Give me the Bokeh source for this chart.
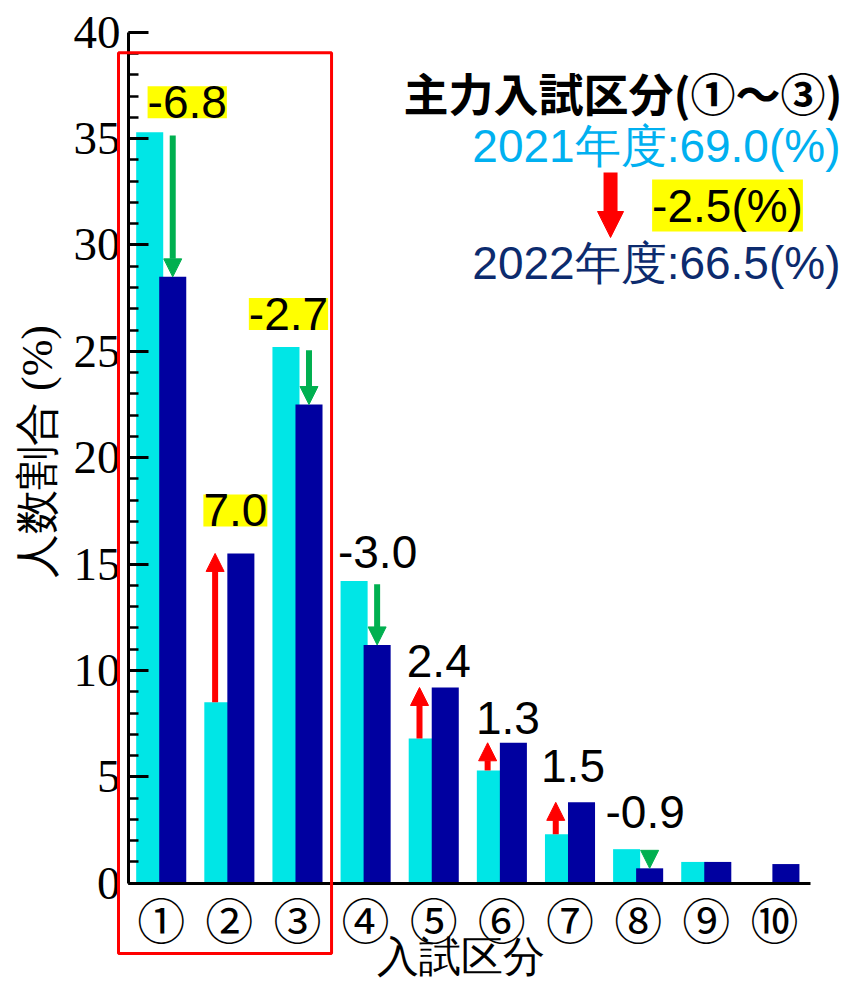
import math
from bokeh.plotting import figure
from bokeh.models import (ColumnDataSource, LabelSet, Label, Arrow, NormalHead, Range1d,
                          BoxAnnotation, SingleIntervalTicker, FixedTicker)
from bokeh.core.properties import value
from bokeh.embed import file_html
from bokeh.resources import INLINE

# ---------------- data ----------------
categories = ["①", "②", "③", "④", "⑤", "⑥", "⑦", "⑧", "⑨", "⑩"]
share_2021 = [35.3, 8.5, 25.2, 14.2, 6.8, 5.3, 2.3, 1.6, 1.0, 0.0]
share_2022 = [28.5, 15.5, 22.5, 11.2, 9.2, 6.6, 3.8, 0.7, 1.0, 0.9]
year_labels = ["2021年度", "2022年度"]
main_count = 3          # 主力入試区分 ①～③
labeled_count = 8       # categories with a change label
y_label = "人数割合 (%)"
x_label = "入試区分"
main_title = "主力入試区分(①～③)"

# ---------------- layout / style ----------------
CYAN = "#00e6e6"
NAVY = "#0000a0"
GREEN = "#00b050"
RED = "#ff0000"
BAR_W = 0.397
BAR_OFF = 0.169
X_AXIS_BOUNDS = (0.52, 10.53)
Y_AXIS_BOUNDS = (0, 40)
lbl_dx = [26, 6, -9, 12, 5, 6, 3, 7]     # px offsets of change labels
lbl_dy = [14, 27, 17, 13, 10, 9, 20, 21]

idx = list(range(1, len(categories) + 1))

p = figure(width=844, height=981, x_range=Range1d(-1.359, 11.029), y_range=Range1d(-4.62, 41.49),
           output_backend="svg", toolbar_location=None,
           min_border=0, min_border_left=0, min_border_right=0,
           min_border_top=0, min_border_bottom=0)
p.outline_line_color = None
p.xgrid.visible = False
p.ygrid.visible = False
p.background_fill_color = "white"
p.border_fill_color = "white"

# bars
src21 = ColumnDataSource(dict(x=[i - BAR_OFF for i in idx], top=share_2021))
src22 = ColumnDataSource(dict(x=[i + BAR_OFF for i in idx], top=share_2022))
p.vbar(x="x", top="top", width=BAR_W, source=src21, fill_color=CYAN, line_color=None)
p.vbar(x="x", top="top", width=BAR_W, source=src22, fill_color=NAVY, line_color=None)

# y axis
ya = p.yaxis[0]
ya.fixed_location = X_AXIS_BOUNDS[0]
ya.bounds = Y_AXIS_BOUNDS
ya.ticker = SingleIntervalTicker(interval=5, num_minor_ticks=5)
ya.major_tick_in = 20
ya.major_tick_out = 0
ya.minor_tick_in = 10
ya.minor_tick_out = 0
ya.axis_line_width = 3
ya.major_tick_line_width = 3
ya.minor_tick_line_width = 2.5
ya.major_label_text_font = "Liberation Serif"
ya.major_label_text_font_size = "47px"
ya.major_label_text_color = "black"
ya.major_label_standoff = 8

# x axis
xa = p.xaxis[0]
xa.fixed_location = Y_AXIS_BOUNDS[0]
xa.bounds = X_AXIS_BOUNDS
xa.ticker = FixedTicker(ticks=idx)
xa.major_label_overrides = {i: c for i, c in zip(idx, categories)}
xa.major_tick_line_color = None
xa.minor_tick_line_color = None
xa.axis_line_width = 3
xa.major_label_text_font = "Noto Sans CJK JP"
xa.major_label_text_font_size = "48px"
xa.major_label_text_color = "black"
xa.major_label_standoff = -6

# change arrows and labels
dn = dict(x=[], ys=[], ye=[])
up = dict(x=[], ys=[], ye=[])
hl = dict(x=[], y=[], t=[], dx=[], dy=[])
pl = dict(x=[], y=[], t=[], dx=[], dy=[])
for k in range(labeled_count):
    a, b = share_2021[k], share_2022[k]
    d = round(b - a, 1)
    if d < 0:
        dn["x"].append(idx[k] + BAR_OFF); dn["ys"].append(a - 0.15); dn["ye"].append(b)
    else:
        up["x"].append(idx[k] - BAR_OFF - 0.04); up["ys"].append(a); up["ye"].append(b)
    tgt = hl if k < main_count else pl
    tgt["x"].append(idx[k]); tgt["y"].append(max(a, b)); tgt["t"].append(f"{d:.1f}")
    tgt["dx"].append(lbl_dx[k]); tgt["dy"].append(lbl_dy[k])

p.add_layout(Arrow(end=NormalHead(size=18, fill_color=GREEN, line_color=GREEN, line_width=1),
                   x_start="x", y_start="ys", x_end="x", y_end="ye",
                   source=ColumnDataSource(dn), line_color=GREEN, line_width=6))
p.add_layout(Arrow(end=NormalHead(size=18, fill_color=RED, line_color=RED, line_width=1),
                   x_start="x", y_start="ys", x_end="x", y_end="ye",
                   source=ColumnDataSource(up), line_color=RED, line_width=6))

p.add_layout(LabelSet(x="x", y="y", text="t", x_offset="dx", y_offset="dy",
                      source=ColumnDataSource(hl), text_align="center", text_baseline="alphabetic",
                      text_font=value("Liberation Sans"), text_font_size="46px", text_color="black",
                      background_fill_color="#ffff00"))
p.add_layout(LabelSet(x="x", y="y", text="t", x_offset="dx", y_offset="dy",
                      source=ColumnDataSource(pl), text_align="center", text_baseline="alphabetic",
                      text_font=value("Liberation Sans"), text_font_size="46px", text_color="black"))

# red box around main categories
p.add_layout(BoxAnnotation(left=0.373, right=3.50, top=39.03, bottom=-3.30,
                           fill_alpha=0, line_color=RED, line_width=3, line_alpha=1))

# axis titles
p.add_layout(Label(x=-0.816, y=20.29, text=y_label, angle=math.pi / 2, text_align="center",
                   text_baseline="middle", text_font="Liberation Serif", text_font_size="44px",
                   text_color="black"))
p.add_layout(Label(x=5.393, y=-3.47, text=x_label, text_align="center",
                   text_baseline="middle", text_font="Liberation Serif", text_font_size="42px",
                   text_color="black"))

# summary box (top right)
tot21 = round(sum(share_2021[:main_count]), 1)
tot22 = round(sum(share_2022[:main_count]), 1)
p.add_layout(Label(x=4.556, y=37.16, text=main_title, text_align="left", text_baseline="middle",
                   text_font="Noto Sans CJK JP", text_font_style="bold", text_font_size="45px",
                   text_color="black"))
p.add_layout(Label(x=10.97, y=34.67, text=f"{year_labels[0]}:{tot21:.1f}(%)", text_align="right",
                   text_baseline="middle", text_font="Liberation Sans", text_font_size="46px",
                   text_color="#00b0f0"))
p.add_layout(Label(x=10.97, y=29.17, text=f"{year_labels[1]}:{tot22:.1f}(%)", text_align="right",
                   text_baseline="middle", text_font="Liberation Sans", text_font_size="46px",
                   text_color="#0c2b6e"))
p.add_layout(Label(x=9.312, y=31.85, text=f"{round(tot22 - tot21, 1):.1f}(%)", text_align="center",
                   text_baseline="middle", text_font="Liberation Sans", text_font_size="46px",
                   text_color="black", background_fill_color="#ffff00"))
p.add_layout(Arrow(end=NormalHead(size=26, fill_color=RED, line_color=RED, line_width=1),
                   x_start=7.595, y_start=33.41, x_end=7.595, y_end=30.35,
                   line_color=RED, line_width=14))

open("out.html", "w").write(file_html(p, INLINE))
